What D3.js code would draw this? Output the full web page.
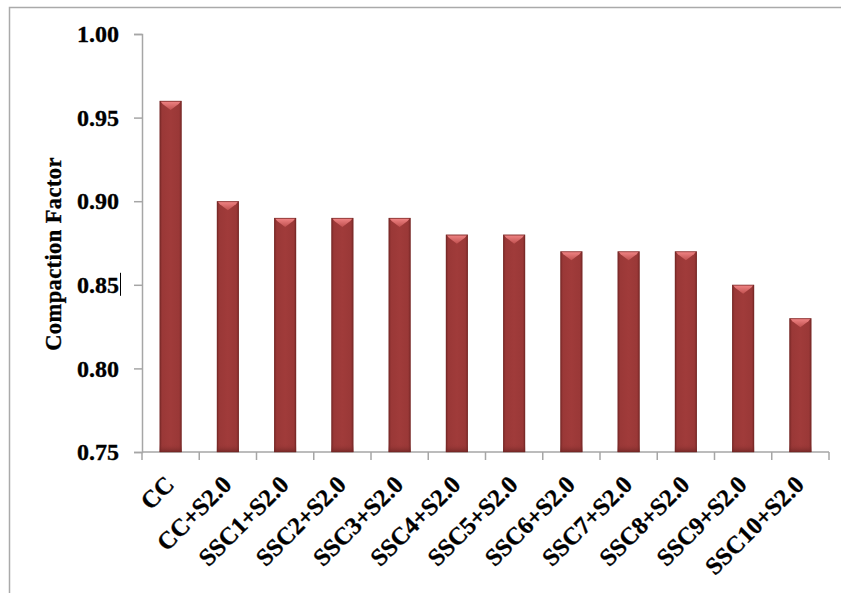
<!DOCTYPE html>
<html>
<head>
<meta charset="utf-8">
<script src="https://cdn.jsdelivr.net/npm/d3@7"></script>
<style>
  html, body { margin: 0; padding: 0; background: #fff; }
  svg { display: block; }
  text { font-family: "Liberation Serif", "Times New Roman", serif; font-weight: bold; fill: #000; stroke: #000; stroke-width: 0.35px; }
</style>
</head>
<body>
<svg id="chart" width="841" height="593"></svg>
<script>
const categories = ["CC", "CC+S2.0", "SSC1+S2.0", "SSC2+S2.0", "SSC3+S2.0", "SSC4+S2.0",
  "SSC5+S2.0", "SSC6+S2.0", "SSC7+S2.0", "SSC8+S2.0", "SSC9+S2.0", "SSC10+S2.0"];
const values = [0.96, 0.90, 0.89, 0.89, 0.89, 0.88, 0.88, 0.87, 0.87, 0.87, 0.85, 0.83];
const yTicks = [0.75, 0.80, 0.85, 0.90, 0.95, 1.00];
const yTitle = "Compaction Factor";

const svg = d3.select("#chart");
const W = 841, H = 593;
const plot = { left: 142, right: 829, top: 34, bottom: 452 };

// outer frame (top and left edges visible)
svg.append("path")
  .attr("d", `M9.5,${H} L9.5,7.5 L${W},7.5`)
  .attr("fill", "none").attr("stroke", "#aaaaaa").attr("stroke-width", 1.5);

const x = d3.scaleBand().domain(categories).range([plot.left, plot.right]).paddingInner(0.615).paddingOuter(0.3075);
const y = d3.scaleLinear().domain([0.75, 1.0]).range([plot.bottom, plot.top]);

const defs = svg.append("defs");
const bodyGrad = defs.append("linearGradient").attr("id", "bodyGrad").attr("x1", 0).attr("x2", 1).attr("y1", 0).attr("y2", 0);
bodyGrad.append("stop").attr("offset", "0%").attr("stop-color", "#7e2b2a");
bodyGrad.append("stop").attr("offset", "12%").attr("stop-color", "#9a3837");
bodyGrad.append("stop").attr("offset", "50%").attr("stop-color", "#a03b3a");
bodyGrad.append("stop").attr("offset", "88%").attr("stop-color", "#9a3837");
bodyGrad.append("stop").attr("offset", "100%").attr("stop-color", "#7e2b2a");
const capGrad = defs.append("linearGradient").attr("id", "capGrad").attr("x1", 0).attr("x2", 0).attr("y1", 0).attr("y2", 1);
capGrad.append("stop").attr("offset", "0%").attr("stop-color", "#f08484");
capGrad.append("stop").attr("offset", "100%").attr("stop-color", "#c05150");
const botGrad = defs.append("linearGradient").attr("id", "botGrad").attr("x1", 0).attr("x2", 0).attr("y1", 0).attr("y2", 1);
botGrad.append("stop").attr("offset", "0%").attr("stop-color", "#9a3837").attr("stop-opacity", 0);
botGrad.append("stop").attr("offset", "100%").attr("stop-color", "#6e2524").attr("stop-opacity", 0.8);

// axes
const yAxis = svg.append("g").attr("transform", `translate(${plot.left},0)`)
  .call(d3.axisLeft(y).tickValues(yTicks).tickFormat(d3.format(".2f")).tickSize(8).tickPadding(15));
yAxis.select(".domain").attr("stroke", "#a6a6a6").attr("stroke-width", 1.5);
yAxis.selectAll(".tick line").attr("stroke", "#a6a6a6").attr("stroke-width", 1.5);
yAxis.selectAll(".tick text").attr("font-size", 24).attr("fill", "#000")
  .style("font-family", "'Liberation Serif', serif").style("font-weight", "bold");

const xAxisG = svg.append("g").attr("transform", `translate(0,${plot.bottom})`);
xAxisG.append("line").attr("x1", plot.left).attr("x2", plot.right).attr("y1", 0).attr("y2", 0)
  .attr("stroke", "#a6a6a6").attr("stroke-width", 1.5);
const step = x.step();
const boundaries = d3.range(categories.length + 1).map(i => plot.left + i * step);
xAxisG.selectAll("line.tk").data(boundaries).join("line").attr("class", "tk")
  .attr("x1", d => d).attr("x2", d => d).attr("y1", 0).attr("y2", 8)
  .attr("stroke", "#a6a6a6").attr("stroke-width", 1.5);

// bars
const bw = x.bandwidth();
const bars = svg.append("g").selectAll("g").data(categories.map((c, i) => ({ c, v: values[i] }))).join("g");
bars.append("rect")
  .attr("x", d => x(d.c)).attr("y", d => y(d.v)).attr("width", bw).attr("height", d => y(0.75) - y(d.v))
  .attr("fill", "url(#bodyGrad)");
bars.append("rect")
  .attr("x", d => x(d.c)).attr("y", y(0.75) - 8).attr("width", bw).attr("height", 8)
  .attr("fill", "url(#botGrad)");
bars.append("path")
  .attr("d", d => {
    const x0 = x(d.c), x1 = x0 + bw, t = y(d.v);
    return `M${x0 + 1},${t + 0.5} L${x1 - 1},${t + 0.5} L${x1 - 3},${t + 3} L${x0 + bw / 2},${t + 9} L${x0 + 3},${t + 3} Z`;
  })
  .attr("fill", "url(#capGrad)");
bars.append("rect")
  .attr("x", d => x(d.c) + 0.5).attr("y", d => y(d.v) + 0.5).attr("width", bw - 1).attr("height", d => y(0.75) - y(d.v) - 0.5)
  .attr("fill", "none").attr("stroke", "#6a2322").attr("stroke-opacity", 0.45).attr("stroke-width", 1);

// x labels
svg.append("g").selectAll("text").data(categories).join("text")
  .attr("transform", d => `translate(${x(d) + bw / 2 + 5},${plot.bottom + 34}) rotate(-45)`)
  .attr("text-anchor", "end").attr("font-size", 24.5).text(d => d);

// y title
svg.append("text")
  .attr("transform", `translate(61,${254}) rotate(-90)`)
  .attr("text-anchor", "middle").attr("font-size", 22.5).attr("letter-spacing", 0.4).text(yTitle);

// stray text cursor mark after 0.85
svg.append("line").attr("x1", 120.5).attr("x2", 120.5).attr("y1", y(0.85) - 12).attr("y2", y(0.85) + 11)
  .attr("stroke", "#000").attr("stroke-width", 1);
</script>
</body>
</html>
